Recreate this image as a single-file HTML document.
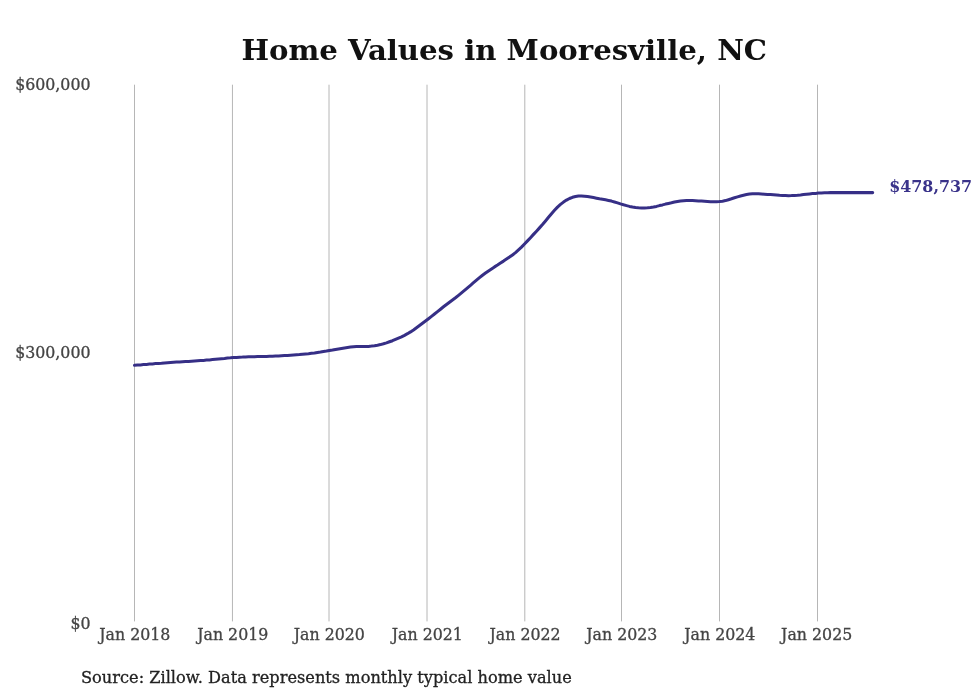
<!DOCTYPE html>
<html lang="en">
<head>
<meta charset="utf-8">
<title>Home Values in Mooresville, NC</title>
<style>
html,body{margin:0;padding:0;background:#fff;}
body{width:980px;height:699px;overflow:hidden;font-family:"DejaVu Serif","Liberation Serif",serif;}
svg{display:block;}
svg text{font-family:"DejaVu Serif","Liberation Serif",serif;}
.grid line{stroke:#b6b6b6;stroke-width:1;}
.tick text{font-size:15.8px;fill:#444;stroke:#444;stroke-width:0.3px;}
.ylab text{text-anchor:end;}
.xlab text{text-anchor:middle;}
.title{font-size:29.18px;font-weight:bold;fill:#111;text-anchor:middle;}
.src{font-size:16.2px;fill:#222;stroke:#222;stroke-width:0.3px;}
.val{font-size:15.9px;font-weight:bold;fill:#3a338a;}
.line{fill:none;stroke:#362f86;stroke-width:3.05;stroke-linecap:round;stroke-linejoin:round;}
</style>
</head>
<body>
<svg width="980" height="699" viewBox="0 0 980 699">
<rect width="980" height="699" fill="#ffffff"/>
<text class="title" transform="translate(504.2,60.3) scale(1,0.95)">Home Values in Mooresville, NC</text>
<g class="grid">
<line x1="134.5" y1="84.7" x2="134.5" y2="621.4"/>
<line x1="232.45" y1="84.7" x2="232.45" y2="621.4"/>
<line x1="329.0" y1="84.7" x2="329.0" y2="621.4"/>
<line x1="427.0" y1="84.7" x2="427.0" y2="621.4"/>
<line x1="524.8" y1="84.7" x2="524.8" y2="621.4"/>
<line x1="621.5" y1="84.7" x2="621.5" y2="621.4"/>
<line x1="719.5" y1="84.7" x2="719.5" y2="621.4"/>
<line x1="817.5" y1="84.7" x2="817.5" y2="621.4"/>
</g>
<g class="tick ylab">
<text x="90.5" y="90.3">$600,000</text>
<text x="90.5" y="358.3">$300,000</text>
<text x="90.5" y="628.6">$0</text>
</g>
<g class="tick xlab">
<text x="134.8" y="640">Jan 2018</text>
<text x="232.75" y="640">Jan 2019</text>
<text x="329.3" y="640">Jan 2020</text>
<text x="427.3" y="640">Jan 2021</text>
<text x="525.1" y="640">Jan 2022</text>
<text x="621.8" y="640">Jan 2023</text>
<text x="719.8" y="640">Jan 2024</text>
<text x="816.7" y="640">Jan 2025</text>
</g>
<path class="line" d="M134.5,365.3 L137.5,365.1 L140.5,364.9 L143.5,364.6 L146.5,364.4 L149.5,364.1 L152.5,363.9 L155.5,363.6 L158.5,363.4 L161.5,363.2 L164.5,362.9 L167.5,362.7 L170.5,362.5 L173.5,362.3 L176.5,362.1 L179.5,362.0 L182.5,361.8 L185.5,361.6 L188.5,361.4 L191.5,361.2 L194.5,361.0 L197.5,360.8 L200.5,360.6 L203.5,360.4 L206.5,360.1 L209.5,359.9 L212.5,359.6 L215.5,359.3 L218.5,359.0 L221.5,358.7 L224.5,358.4 L227.5,358.0 L230.5,357.8 L233.5,357.5 L236.5,357.4 L239.5,357.2 L242.5,357.1 L245.5,356.9 L248.5,356.8 L251.5,356.8 L254.5,356.7 L257.5,356.6 L260.5,356.5 L263.5,356.5 L266.5,356.4 L269.5,356.3 L272.5,356.2 L275.5,356.1 L278.5,356.0 L281.5,355.8 L284.5,355.6 L287.5,355.4 L290.5,355.2 L293.5,355.0 L296.5,354.8 L299.5,354.6 L302.5,354.3 L305.5,354.0 L308.5,353.7 L311.5,353.3 L314.5,352.9 L317.5,352.4 L320.5,352.0 L323.5,351.5 L326.5,351.1 L329.5,350.5 L332.5,350.0 L335.5,349.4 L338.5,348.9 L341.5,348.4 L344.5,347.9 L347.5,347.5 L350.5,347.1 L353.5,346.8 L356.5,346.6 L359.5,346.5 L362.5,346.5 L365.5,346.5 L368.5,346.4 L371.5,346.1 L374.5,345.7 L377.5,345.2 L380.5,344.6 L383.5,343.8 L386.5,342.9 L389.5,341.8 L392.5,340.7 L395.5,339.4 L398.5,338.1 L401.5,336.8 L404.5,335.3 L407.5,333.7 L410.5,331.9 L413.5,329.9 L416.5,327.7 L419.5,325.5 L422.5,323.2 L425.5,321.0 L428.5,318.7 L431.5,316.4 L434.5,314.0 L437.5,311.6 L440.5,309.2 L443.5,306.8 L446.5,304.5 L449.5,302.2 L452.5,300.0 L455.5,297.8 L458.5,295.4 L461.5,292.9 L464.5,290.4 L467.5,287.8 L470.5,285.3 L473.5,282.7 L476.5,280.1 L479.5,277.6 L482.5,275.2 L485.5,273.0 L488.5,270.9 L491.5,268.9 L494.5,266.9 L497.5,265.0 L500.5,263.0 L503.5,261.1 L506.5,259.1 L509.5,257.1 L512.5,254.9 L515.5,252.6 L518.5,249.9 L521.5,247.1 L524.5,244.0 L527.5,240.9 L530.5,237.7 L533.5,234.4 L536.5,231.2 L539.5,227.9 L542.5,224.5 L545.5,220.9 L548.5,217.3 L551.5,213.7 L554.5,210.3 L557.5,207.1 L560.5,204.4 L563.5,202.1 L566.5,200.1 L569.5,198.5 L572.5,197.3 L575.5,196.5 L578.5,196.0 L581.5,196.0 L584.5,196.2 L587.5,196.6 L590.5,197.1 L593.5,197.6 L596.5,198.2 L599.5,198.8 L602.5,199.3 L605.5,199.8 L608.5,200.4 L611.5,201.1 L614.5,202.0 L617.5,202.9 L620.5,203.9 L623.5,204.8 L626.5,205.6 L629.5,206.4 L632.5,207.0 L635.5,207.5 L638.5,207.8 L641.5,208.0 L644.5,207.9 L647.5,207.8 L650.5,207.5 L653.5,207.0 L656.5,206.4 L659.5,205.6 L662.5,204.9 L665.5,204.1 L668.5,203.4 L671.5,202.8 L674.5,202.1 L677.5,201.5 L680.5,201.0 L683.5,200.7 L686.5,200.5 L689.5,200.5 L692.5,200.5 L695.5,200.7 L698.5,200.9 L701.5,201.1 L704.5,201.3 L707.5,201.5 L710.5,201.7 L713.5,201.8 L716.5,201.8 L719.5,201.6 L722.5,201.2 L725.5,200.6 L728.5,199.7 L731.5,198.8 L734.5,197.8 L737.5,196.9 L740.5,196.0 L743.5,195.3 L746.5,194.6 L749.5,194.1 L752.5,193.8 L755.5,193.7 L758.5,193.8 L761.5,194.0 L764.5,194.2 L767.5,194.4 L770.5,194.5 L773.5,194.7 L776.5,195.0 L779.5,195.3 L782.5,195.5 L785.5,195.6 L788.5,195.7 L791.5,195.6 L794.5,195.4 L797.5,195.2 L800.5,194.9 L803.5,194.5 L806.5,194.2 L809.5,193.9 L812.5,193.6 L815.5,193.4 L818.5,193.1 L821.5,192.9 L824.5,192.8 L827.5,192.7 L830.5,192.6 L833.5,192.6 L836.5,192.6 L839.5,192.6 L842.5,192.6 L845.5,192.6 L848.5,192.6 L851.5,192.6 L854.5,192.6 L857.5,192.6 L860.5,192.6 L863.5,192.6 L866.5,192.6 L869.5,192.6 L872.5,192.6 L872.7,192.6"/>
<text class="val" transform="translate(889.2,191.7) scale(1,1.06)">$478,737</text>
<text class="src" transform="translate(81,683.3) scale(1,1.03)">Source: Zillow. Data represents monthly typical home value</text>
</svg>
</body>
</html>
